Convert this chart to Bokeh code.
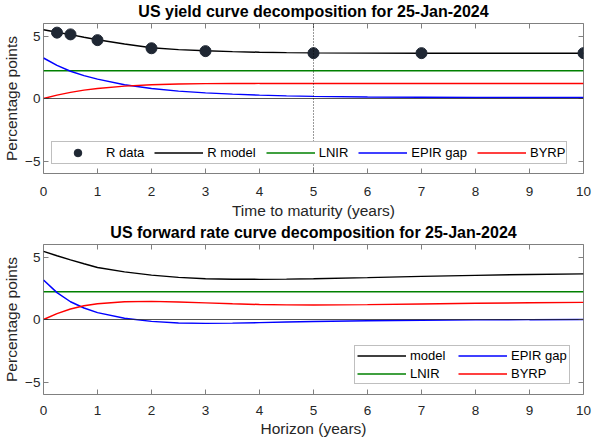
from bokeh.plotting import figure
from bokeh.models import (Legend, LegendItem, Span, LinearAxis, FixedTicker, Range1d,
                          CustomLabelingPolicy)
from bokeh.layouts import column
from bokeh.embed import file_html
from bokeh.resources import INLINE

# ---------------- data ----------------
horizon = [0, 0.25, 0.5, 0.75, 1, 1.5, 2, 2.5, 3, 3.5, 4, 4.5, 5, 6, 7, 8, 9, 10]

# yield curve decomposition
yld_model = [5.50, 5.30, 5.11, 4.90, 4.70, 4.36, 4.06, 3.91, 3.82, 3.75, 3.70, 3.67, 3.65,
             3.63, 3.62, 3.62, 3.62, 3.62]
yld_lnir = [2.23] * 18
yld_epir = [3.24, 2.65, 2.18, 1.83, 1.55, 1.10, 0.80, 0.59, 0.45, 0.35, 0.27, 0.21, 0.17,
            0.12, 0.10, 0.09, 0.08, 0.08]
yld_byrp = [0.00, 0.27, 0.49, 0.67, 0.80, 0.99, 1.10, 1.16, 1.19, 1.20, 1.21, 1.21, 1.21,
            1.21, 1.21, 1.21, 1.21, 1.21]

data_maturity = [0.25, 0.5, 1, 2, 3, 5, 7, 10]
data_yield = [5.27, 5.13, 4.67, 4.02, 3.79, 3.63, 3.63, 3.63]

# forward rate curve decomposition
fwd_model = [5.45, 5.10, 4.77, 4.46, 4.16, 3.81, 3.55, 3.37, 3.26, 3.22, 3.21, 3.23, 3.26,
             3.35, 3.45, 3.53, 3.60, 3.65]
fwd_lnir = [2.23] * 18
fwd_epir = [3.16, 2.15, 1.42, 0.92, 0.55, 0.10, -0.15, -0.28, -0.31, -0.29, -0.25, -0.20,
            -0.16, -0.10, -0.06, -0.03, -0.01, 0.00]
fwd_byrp = [0.00, 0.47, 0.84, 1.10, 1.26, 1.42, 1.45, 1.40, 1.33, 1.26, 1.20, 1.17, 1.16,
            1.19, 1.24, 1.30, 1.34, 1.37]

x_ticks = [0, 1, 2, 3, 4, 5, 6, 7, 8, 9, 10]
y_ticks = [-5, 0, 5]
highlight_maturity = 5

FONT = "Liberation Sans"
TXT = "#262626"
AX = "#808080"

NO_LABELS = "for (const i of indices) { indices.unset(i) }\nreturn indices"


def make_fig(title, xlabel, top_border, tick_standoff, label_standoff):
    p = figure(frame_width=540, frame_height=150, x_range=Range1d(0, 10),
               y_range=Range1d(-6, 6), output_backend="svg", toolbar_location=None,
               min_border_left=36, min_border_right=9, min_border_top=top_border,
               min_border_bottom=0)
    p.title.text = title
    p.title.text_font = FONT
    p.title.text_font_size = "16px"
    p.title.text_font_style = "bold"
    p.title.text_color = "black"
    p.title.align = "center"
    p.title.standoff = 0
    p.title.text_line_height = 1.0
    p.xgrid.visible = False
    p.ygrid.visible = False
    p.outline_line_color = AX
    p.outline_line_width = 1
    p.background_fill_color = "white"
    p.border_fill_color = "white"

    p.xaxis.ticker = FixedTicker(ticks=x_ticks)
    p.yaxis.ticker = FixedTicker(ticks=y_ticks)
    for ax in (p.xaxis[0], p.yaxis[0]):
        ax.axis_line_color = None
        ax.major_tick_in = 5
        ax.major_tick_out = 0
        ax.minor_tick_line_color = None
        ax.major_tick_line_color = AX
        ax.major_label_text_font = FONT
        ax.major_label_text_font_size = "13.5px"
        ax.major_label_text_color = TXT
        ax.axis_label_text_font = FONT
        ax.axis_label_text_font_size = "15.5px"
        ax.axis_label_text_font_style = "normal"
        ax.axis_label_text_color = TXT
    p.xaxis.axis_label = xlabel
    p.yaxis.axis_label = "Percentage points"
    p.xaxis.major_label_standoff = tick_standoff
    p.xaxis.axis_label_standoff = label_standoff
    p.yaxis.major_label_standoff = 3
    p.yaxis.axis_label_standoff = 2

    # mirrored ticks on top and right (no labels)
    for side, ticks in (("above", x_ticks), ("right", y_ticks)):
        ax = LinearAxis(ticker=FixedTicker(ticks=ticks), major_label_text_font_size="1px",
                        major_label_policy=CustomLabelingPolicy(code=NO_LABELS),
                        major_label_standoff=0, major_tick_in=5, major_tick_out=0,
                        axis_line_color=None, minor_tick_line_color=None,
                        major_tick_line_color=AX)
        p.add_layout(ax, side)

    p.add_layout(Span(location=0, dimension="width", line_color=TXT, line_width=0.8))
    return p


def style_legend(lg):
    lg.label_text_font = FONT
    lg.label_text_font_size = "13px"
    lg.label_text_color = "black"
    lg.border_line_color = AX
    lg.border_line_width = 1
    lg.background_fill_alpha = 1
    lg.glyph_width = 49
    lg.label_standoff = 4
    lg.margin = 0


# ---------- top: yield curve ----------
p1 = make_fig("US yield curve decomposition for 25-Jan-2024", "Time to maturity (years)",
              16, 13, 3)
p1.add_layout(Span(location=highlight_maturity, dimension="height", line_color="black",
                   line_width=0.8, line_dash="1 2"))
r_lnir = p1.line(horizon, yld_lnir, line_color="#008000", line_width=1.5)
r_epir = p1.line(horizon, yld_epir, line_color="#0000ff", line_width=1.5)
r_byrp = p1.line(horizon, yld_byrp, line_color="#ff0000", line_width=1.5)
r_model = p1.line(horizon, yld_model, line_color="black", line_width=1.5)
r_data = p1.scatter(data_maturity, data_yield, size=11, marker="circle",
                    fill_color="#1f2733", line_color="#1f2733")
lg1 = Legend(items=[LegendItem(label="R data", renderers=[r_data]),
                    LegendItem(label="R model", renderers=[r_model]),
                    LegendItem(label="LNIR", renderers=[r_lnir]),
                    LegendItem(label="EPIR gap", renderers=[r_epir]),
                    LegendItem(label="BYRP", renderers=[r_byrp])],
             orientation="horizontal", location=(8, 9), spacing=10)
style_legend(lg1)
lg1.glyph_height = 19
lg1.padding = 1
p1.add_layout(lg1)

# ---------- bottom: forward curve ----------
p2 = make_fig("US forward rate curve decomposition for 25-Jan-2024", "Horizon (years)",
              23, 11, 2)
f_lnir = p2.line(horizon, fwd_lnir, line_color="#008000", line_width=1.5)
f_epir = p2.line(horizon, fwd_epir, line_color="#0000ff", line_width=1.5)
f_byrp = p2.line(horizon, fwd_byrp, line_color="#ff0000", line_width=1.5)
f_model = p2.line(horizon, fwd_model, line_color="black", line_width=1.5)
lg2 = Legend(items=[LegendItem(label="model", renderers=[f_model]),
                    LegendItem(label="LNIR", renderers=[f_lnir]),
                    LegendItem(label="EPIR gap", renderers=[f_epir]),
                    LegendItem(label="BYRP", renderers=[f_byrp])],
             orientation="vertical", ncols=2, location=(311, 10), spacing=3)
style_legend(lg2)
lg2.glyph_height = 15
lg2.padding = 2
lg2.label_width = 45
p2.add_layout(lg2)

layout = column(p1, p2, spacing=0)
open("out.html", "w").write(file_html(layout, INLINE))
